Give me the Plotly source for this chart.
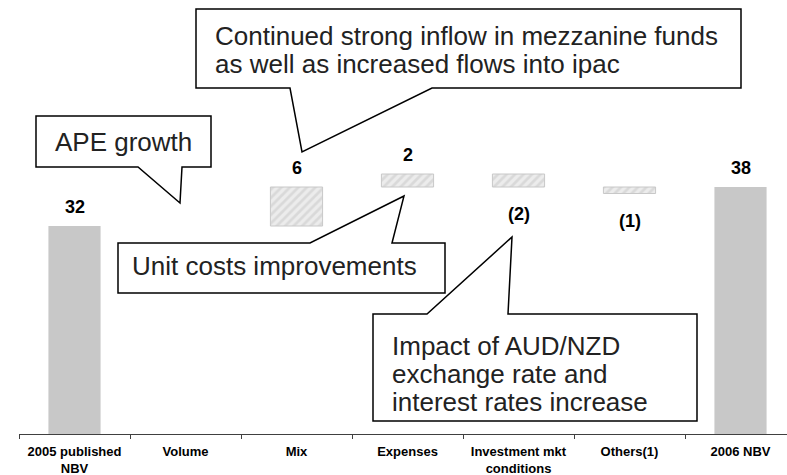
import plotly.graph_objects as go

# ---- data ----
categories = ["2005 published<br>NBV", "Volume", "Mix", "Expenses",
              "Investment mkt<br>conditions", "Others(1)", "2006 NBV"]
start_value = 32
deltas = [0, 6, 2, -2, -1]          # Volume, Mix, Expenses, Investment, Others
end_value = 38
labels = ["32", "", "6", "2", "(2)", "(1)", "38"]

# ---- compute waterfall bases ----
bases = []
run = start_value
for d in deltas:
    bases.append(run)
    run += d

W, H = 787, 475
L, R, T, B = 19, 0, 0, 41
PW, PH = W - L - R, H - T - B
UNIT_PX = 6.5
CAT_PX = 111.0

FONT = "Arial, Liberation Sans, sans-serif"

fig = go.Figure()

# totals
fig.add_trace(go.Bar(
    x=[categories[0], categories[-1]],
    y=[start_value, end_value],
    base=[0, 0],
    width=0.47,
    marker=dict(color="#C8C8C8", line=dict(width=0)),
    hoverinfo="skip", showlegend=False,
))

# deltas (hatched)
fig.add_trace(go.Bar(
    x=categories[1:-1],
    y=deltas,
    base=bases,
    width=0.47,
    marker=dict(
        color="#ECECEC",
        line=dict(color="#C8C8C8", width=[0 if d == 0 else 1 for d in deltas]),
        pattern=dict(shape="/", fgcolor="#C6C6C6", bgcolor="#ECECEC",
                     size=6, solidity=0.45),
    ),
    hoverinfo="skip", showlegend=False,
))

# value labels
tops = [start_value] + [b + max(d, 0) for b, d in zip(bases, deltas)] + [end_value]
bots = [0] + [b + min(d, 0) for b, d in zip(bases, deltas)] + [0]
vals = [start_value] + deltas + [end_value]
annotations = []
for c, lab, v, tp, bt in zip(categories, labels, vals, tops, bots):
    if not lab:
        continue
    if v >= 0:
        annotations.append(dict(x=c, y=tp, xref="x", yref="y", text="<b>%s</b>" % lab,
                                showarrow=False, yanchor="middle", yshift=19,
                                font=dict(family=FONT, size=18, color="#000")))
    else:
        annotations.append(dict(x=c, y=bt, xref="x", yref="y", text="<b>%s</b>" % lab,
                                showarrow=False, yanchor="middle", yshift=-27,
                                font=dict(family=FONT, size=18, color="#000")))


def px(x):
    return (x - L) / PW


def py(y):
    return (PH + T - y) / PH


def path(points):
    s = "M %f,%f " % (px(points[0][0]), py(points[0][1]))
    for p in points[1:]:
        s += "L %f,%f " % (px(p[0]), py(p[1]))
    return s + "Z"


callouts = [
    [(196, 9), (741, 9), (741, 88), (432, 88), (302, 152), (290, 88), (196, 88)],
    [(36, 116), (211, 116), (211, 167), (182, 167), (180, 203), (138, 167), (36, 167)],
    [(118, 243), (310, 243), (404, 196), (392, 243), (445, 243), (445, 293), (118, 293)],
    [(373, 314), (427, 314), (512, 237), (508, 314), (697, 314), (697, 421), (373, 421)],
]
shapes = []
for pts in callouts:
    shapes.append(dict(type="path", xref="paper", yref="paper", path=path(pts),
                       line=dict(color="#000", width=1.5), fillcolor="white", layer="above"))

callout_text = [
    (213, 36, "Continued strong inflow in mezzanine funds"),
    (213, 64, "as well as increased flows into ipac"),
    (53, 142, "APE growth"),
    (130, 266, "Unit costs improvements"),
    (390, 346, "Impact of AUD/NZD"),
    (390, 374, "exchange rate and"),
    (390, 402, "interest rates increase"),
]
for x, y, t in callout_text:
    annotations.append(dict(x=px(x), y=py(y), xref="paper", yref="paper", text=t,
                            showarrow=False, xanchor="left", yanchor="middle",
                            font=dict(family=FONT, size=26, color="#222")))

fig.update_layout(
    width=W, height=H,
    margin=dict(l=L, r=R, t=T, b=B, pad=0),
    paper_bgcolor="white", plot_bgcolor="white",
    barmode="overlay",
    hovermode=False,
    shapes=shapes,
    annotations=annotations,
    xaxis=dict(type="category", categoryorder="array", categoryarray=categories,
               range=[-0.5, -0.5 + PW / CAT_PX],
               showline=True, linecolor="#404040", linewidth=1,
               ticks="outside", tickson="boundaries", ticklen=4, tickcolor="#404040",
               showgrid=False, zeroline=False, ticklabelstandoff=5,
               tickfont=dict(family=FONT, size=13, color="#000"),
               tickprefix="<b>", ticksuffix="</b>"),
    yaxis=dict(visible=False, range=[0, PH / UNIT_PX], showgrid=False, zeroline=False),
)

fig.write_html("out.html",
               config={"displayModeBar": False, "staticPlot": True},
               post_script="document.body.style.margin='0px';document.body.style.overflow='hidden';")
